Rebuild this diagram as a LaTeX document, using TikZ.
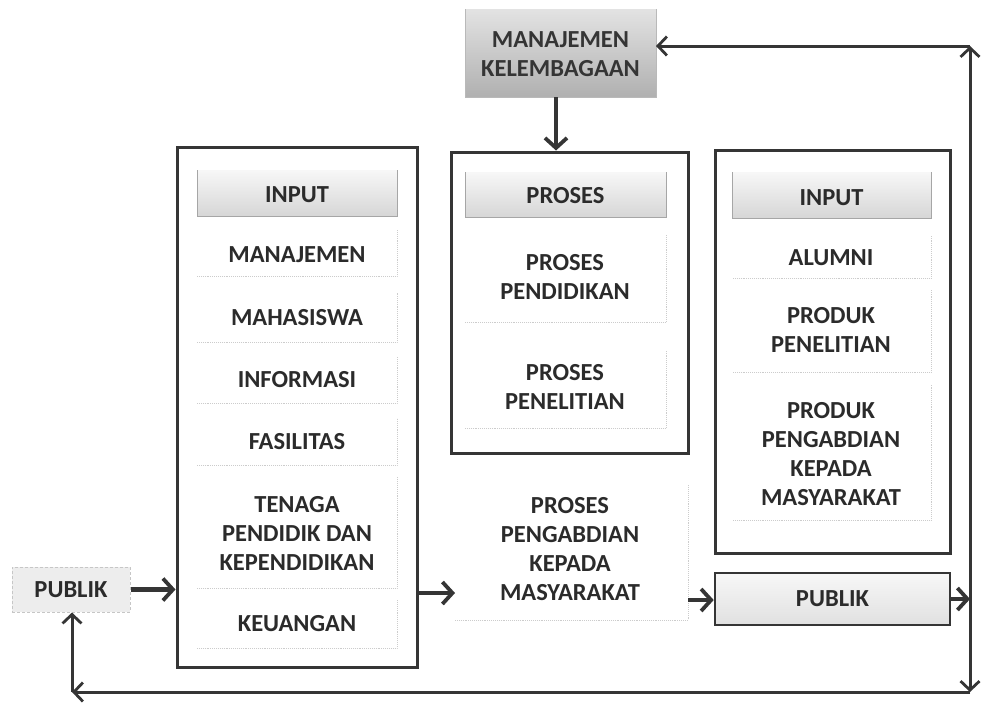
\documentclass[tikz,border=0pt]{standalone}
\usepackage{fontspec}
\setmainfont{Carlito}
\usetikzlibrary{arrows.meta}
\definecolor{dk}{HTML}{353535}
\definecolor{tx}{HTML}{2B2B2B}
\tikzset{
  lbl/.style={align=center, text=tx, font=\fontsize{24.5}{29}\selectfont\bfseries, inner sep=0pt},
  bigbox/.style={draw=dk, line width=3pt},
  hdr/.style={top color=gray!6, bottom color=gray!32},
  mkfill/.style={top color=gray!22, bottom color=gray!62},
  faint/.style={draw=gray!40, densely dotted, line width=0.9pt},
  arr/.style={draw=dk, line width=4.2pt, -{Straight Barb[length=10pt,width=22pt,line width=3.8pt]}},
  fba/.style={draw=dk, line width=3pt, -{Straight Barb[length=9pt,width=19pt,line width=2.8pt]}},
}
\begin{document}
\begin{tikzpicture}[x=1pt,y=-1pt]
\useasboundingbox (0,0) rectangle (984,705);
\fill[white] (0,0) rectangle (984,705);

% Manajemen kelembagaan
\shade[mkfill] (465,9) rectangle (656,97);
\draw[gray!55, line width=0.8pt] (465,9) -- (465,97) -- (656,97) -- (656,9);
\node[lbl, text=dk] (mk) at (560.5,54) {MANAJEMEN\\KELEMBAGAAN};
\coordinate (mkS) at (556,97);
\coordinate (mkE) at (656,46);

% Left big box
\node[bigbox, minimum width=240pt, minimum height=520pt, inner sep=0pt] (lbox) at (297,407) {};
\shade[hdr] (197,170) rectangle (397,216);
\draw[gray!70, line width=1pt] (197,170) -- (197,216) -- (397,216) -- (397,170);
\node[lbl] (inL) at (297,195) {INPUT};
\foreach \ya/\yb in {230/276, 293/342, 357/403, 418/465, 477/588, 600/648}{
  \draw[faint] (197,\yb) -- (397,\yb) -- (397,\ya);
}
\node[lbl] (man) at (297,255) {MANAJEMEN};
\node[lbl] (mhs) at (297,318) {MAHASISWA};
\node[lbl] (inf) at (297,380) {INFORMASI};
\node[lbl] (fas) at (297,442) {FASILITAS};
\node[lbl] (ten) at (297,533) {TENAGA\\PENDIDIK DAN\\KEPENDIDIKAN};
\node[lbl] (keu) at (297,624) {KEUANGAN};

% Middle box
\node[bigbox, minimum width=237pt, minimum height=301pt, inner sep=0pt] (mbox) at (569.5,302.5) {};
\shade[hdr] (465,172) rectangle (666,217);
\draw[gray!70, line width=1pt] (465,172) -- (465,217) -- (666,217) -- (666,172);
\node[lbl] (inM) at (565.5,196) {PROSES};
\draw[faint] (465,322) -- (666,322) -- (666,235);
\draw[faint] (465,428) -- (666,428) -- (666,350);
\node[lbl] (pend) at (565,277) {PROSES\\PENDIDIKAN};
\node[lbl] (pen) at (565,387) {PROSES\\PENELITIAN};
\draw[faint] (455,620) -- (688,620) -- (688,485);
\node[lbl] (pab) at (570,549) {PROSES\\PENGABDIAN\\KEPADA\\MASYARAKAT};

% Right box
\node[bigbox, minimum width=235pt, minimum height=403pt, inner sep=0pt] (rbox) at (832.5,351.5) {};
\shade[hdr] (732,172) rectangle (931,218);
\draw[gray!70, line width=1pt] (732,172) -- (732,218) -- (931,218) -- (931,172);
\node[lbl] (inR) at (831.5,198) {INPUT};
\foreach \ya/\yb in {235/278, 290/372, 385/520}{
  \draw[faint] (733,\yb) -- (931,\yb) -- (931,\ya);
}
\node[lbl] (alu) at (831,258) {ALUMNI};
\node[lbl] (ppen) at (831,330) {PRODUK\\PENELITIAN};
\node[lbl] (ppab) at (831,454) {PRODUK\\PENGABDIAN\\KEPADA\\MASYARAKAT};

% Publik boxes
\node[draw=dk, line width=2.6pt, top color=gray!6, bottom color=gray!24, minimum width=235pt, minimum height=52pt, inner sep=0pt] (pubR) at (832.5,599) {};
\node[lbl] at (pubR) {PUBLIK};
\node[draw=gray!45, densely dashed, line width=1pt, fill=gray!14, minimum width=118pt, minimum height=45pt, inner sep=0pt] (pubL) at (71,589.5) {};
\node[lbl] at (pubL) {PUBLIK};

% Connectors
\coordinate (lA) at (417,593);
\coordinate (pA) at (455,593);
\coordinate (pB) at (688,600);
\coordinate (rj) at (970,599);
\coordinate (rt) at (970,46);
\coordinate (rb) at (970,692);
\coordinate (lb) at (72,692);

\draw[arr] (mkS) -- (mbox.north -| mkS);
\draw[arr] (pubL.east) -- (lbox.west |- pubL.east);
\draw[arr] (lA) -- (pA);
\draw[arr] (pB) -- (pubR.west |- pB);
\draw[arr] (pubR.east |- rj) -- (rj);
\draw[fba] (rj) -- (rt);
\draw[fba] (rt) -- (mkE);
\draw[fba] (rj) -- (rb);
\draw[fba] (rb) -- (lb);
\draw[fba] (lb) -- (pubL.south -| lb);
\end{tikzpicture}
\end{document}
